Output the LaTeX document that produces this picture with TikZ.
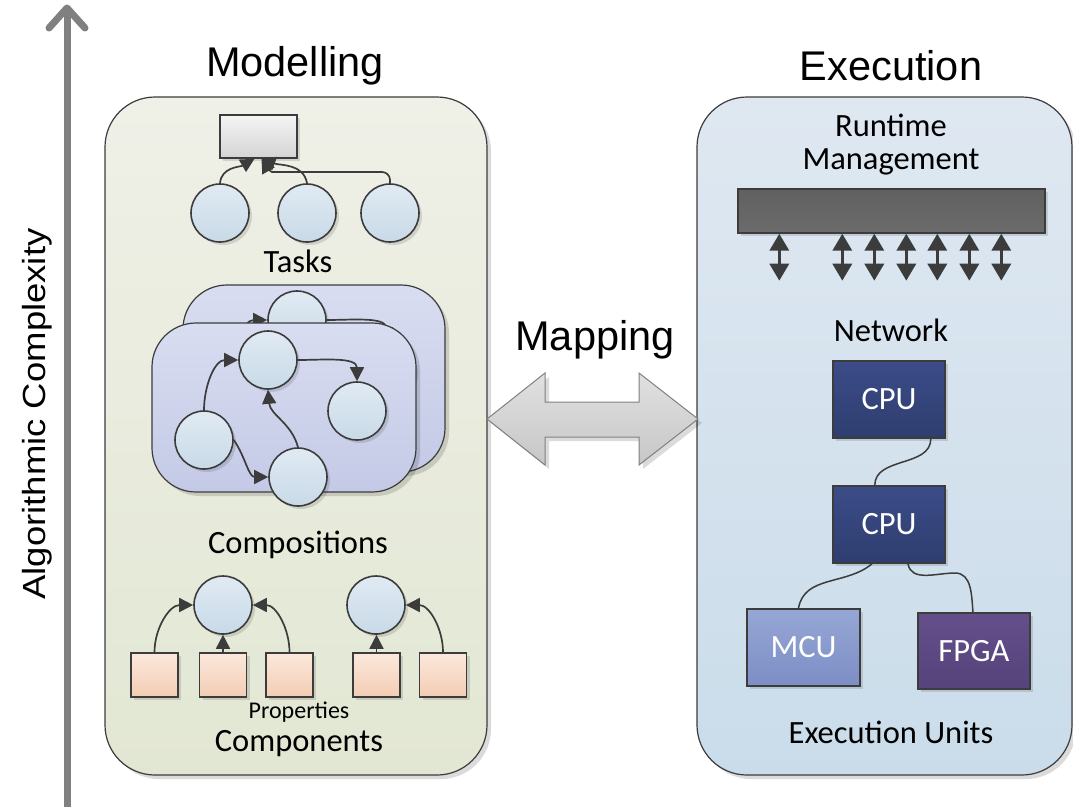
\documentclass[tikz,border=0pt]{standalone}
\usepackage{fontspec}
\setmainfont{Carlito}
\newfontfamily\arialf{Liberation Sans}
\usetikzlibrary{arrows.meta,shadows}

\definecolor{edge}{HTML}{3C3C3C}
\definecolor{axisgray}{HTML}{808080}
\definecolor{modtop}{HTML}{EFF0E7}
\definecolor{modbot}{HTML}{E2E7D3}
\definecolor{exetop}{HTML}{DFE8F1}
\definecolor{exebot}{HTML}{CADCEA}
\definecolor{cardtop}{HTML}{D9DDF1}
\definecolor{cardbot}{HTML}{C4CAE6}
\definecolor{circtop}{HTML}{E0EAF3}
\definecolor{circbot}{HTML}{C8DAE7}
\definecolor{proptop}{HTML}{FBE8DC}
\definecolor{propbot}{HTML}{F3CDB3}
\definecolor{cputop}{HTML}{3B4C88}
\definecolor{cpubot}{HTML}{2F3E6F}
\definecolor{mcutop}{HTML}{96A6D5}
\definecolor{mcubot}{HTML}{7C8EC5}
\definecolor{fpgatop}{HTML}{644F8B}
\definecolor{fpgabot}{HTML}{56437A}

% task graph inside a composition card
\newcommand\compgraph[1]{%
  \node[circ] (#1a) at (268,360) {};
  \node[circ] (#1b) at (357,411) {};
  \node[circ] (#1c) at (204,440) {};
  \node[circ] (#1d) at (298,477) {};
  \draw[conn] (#1c.north) to[out=90,in=180] (#1a.west);
  \draw[conn] (#1a.east) to[out=0,in=90] (#1b.north);
  \draw[conn] (#1d.north) to[out=105,in=-85] (#1a.south);
  \draw[conn] (#1c.east) to[out=-55,in=180] (#1d.west);
}

\begin{document}
\begin{tikzpicture}[x=1pt,y=-1pt,
  shd/.style={drop shadow={shadow xshift=4pt,shadow yshift=-4pt,fill=black,opacity=0.14}},
  sshd/.style={drop shadow={shadow xshift=3pt,shadow yshift=-3pt,fill=black,opacity=0.12}},
  panel/.style={draw=edge,line width=1.2pt,rounded corners=50pt,inner sep=0pt,shd},
  card/.style={draw=edge,line width=1.2pt,rounded corners=44pt,inner sep=0pt,
    top color=cardtop,bottom color=cardbot,shd},
  circ/.style={circle,draw=edge,line width=1.6pt,minimum size=58pt,inner sep=0pt,
    top color=circtop,bottom color=circbot,sshd},
  prop/.style={rectangle,draw=edge,line width=1.6pt,minimum width=47pt,minimum height=44pt,
    inner sep=0pt,top color=proptop,bottom color=propbot,sshd},
  unit/.style={rectangle,draw=edge,line width=1.6pt,minimum width=112pt,minimum height=77pt,
    inner sep=0pt,text=white,font=\fontsize{32.5}{34}\selectfont,sshd},
  conn/.style={draw=edge,line width=1.7pt,-{Triangle[length=14pt,width=14pt]}},
  wire/.style={draw=edge,line width=1.5pt},
  dbl/.style={draw=edge,line width=3.5pt,
    {Triangle[length=17pt,width=19pt]}-{Triangle[length=17pt,width=19pt]}},
  lbl/.style={font=\fontsize{32.5}{36}\selectfont},
  small/.style={font=\fontsize{24}{26}\selectfont},
  title/.style={font=\arialf\fontsize{41.5}{44}\selectfont}]

\useasboundingbox (0,0) rectangle (1073,807);
\fill[white] (0,0) rectangle (1073,807);

% complexity axis
\coordinate (axb) at (67,807);
\coordinate (axt) at (67,8);
\draw[axisgray,line width=7pt] (axb) -- ([yshift=-3pt]axt);
\draw[axisgray,line width=7pt,line cap=round,line join=round]
  (49,28) -- (axt) -- (85,28);
\node[rotate=90,font=\arialf\fontsize{32}{34}\selectfont] (axl) at (37,414)
  {\scalebox{1.14}[1]{Algorithmic Complexity}};

% panels
\node[panel,top color=modtop,bottom color=modbot,minimum width=382pt,minimum height=678pt]
  (mod) at (296,436) {};
\node[panel,top color=exetop,bottom color=exebot,minimum width=375pt,minimum height=678pt]
  (exe) at (884.5,436) {};
\node[title] (modt) at (295,66) {Modelling};
\node[title] (exet) at (891,66) {Execution};

% mapping arrow
\path[draw=axisgray,line width=1pt,top color=white!88!black,bottom color=white!78!black,shd]
  (487,419) -- (545,373) -- (545,402) -- (639,402) -- (639,373) -- (698,419)
  -- (639,465) -- (639,437) -- (545,437) -- (545,465) -- cycle;
\node[title] (mapt) at (595,340) {Mapping};

% tasks
\node[rectangle,draw=edge,line width=1.6pt,minimum width=77pt,minimum height=43pt,inner sep=0pt,
  top color=white!96!black,bottom color=white!83!black,sshd] (tb) at (258.5,136.5) {};
\node[circ] (t1) at (220,213) {};
\node[circ] (t2) at (307,213) {};
\node[circ] (t3) at (390,213) {};
\draw[conn] (t1.north) to[out=85,in=-150] ([xshift=-4pt]tb.south);
\draw[conn] (t2.north) to[out=100,in=-20] ([xshift=3pt]tb.south);
\draw[conn,rounded corners=8pt] (t3.north) |- (280,172) to[out=180,in=-60] ([xshift=3pt]tb.south);
\node[lbl] (tasks) at (298,261) {Tasks};

% compositions
\node[card,minimum width=262pt,minimum height=187pt] (bc) at (314,378.5) {};
\begin{scope}[shift={(29,-40)}]
  \compgraph{bk}
\end{scope}
\node[card,minimum width=264pt,minimum height=169pt] (fc) at (284,407.5) {};
\compgraph{fr}
\node[lbl] (comps) at (298,545) {Compositions};

% components
\node[circ] (c1) at (223,605) {};
\node[circ] (c2) at (376,605) {};
\node[prop] (p1) at (154.5,675) {};
\node[prop] (p2) at (223,675) {};
\node[prop] (p3) at (289.5,675) {};
\node[prop] (p4) at (376.5,675) {};
\node[prop] (p5) at (443,675) {};
\draw[conn] (p1.north) to[out=90,in=180] (c1.west);
\draw[conn] (p2.north) -- (c1.south);
\draw[conn] (p3.north) to[out=90,in=0] (c1.east);
\draw[conn] (p4.north) -- (p4.north |- c2.south);
\draw[conn] (p5.north) to[out=90,in=0] (c2.east);
\node[small] (props) at (299,712) {Properties};
\node[lbl] (compo) at (299,744) {Components};

% runtime management
\node[lbl] (rt1) at (891,125) {Runtime};
\node[lbl] (rt2) at (891,162) {Management};
\node[rectangle,draw=edge,line width=1.4pt,minimum width=307pt,minimum height=44pt,inner sep=0pt,
  top color=white!38!black,middle color=white!52!black,bottom color=white!42!black,sshd]
  (rm) at (891.5,211) {};
\foreach \dx in {42,105,137,169,200,232,264}
  \draw[dbl] ([xshift=\dx pt]rm.south west) -- ++(0,47);

% network of execution units
\node[lbl] (net) at (891,330) {Network};
\node[unit,top color=cputop,bottom color=cpubot] (cpu1) at (889,399.5) {CPU};
\node[unit,top color=cputop,bottom color=cpubot] (cpu2) at (889,524.5) {CPU};
\node[unit,minimum width=113pt,top color=mcutop,bottom color=mcubot] (mcu) at (803.5,647.5) {MCU};
\node[unit,minimum height=76pt,top color=fpgatop,bottom color=fpgabot] (fpga) at (974,651) {FPGA};
\draw[wire] ([xshift=-15pt]cpu1.south east) to[out=-90,in=90] ([xshift=-71pt]cpu2.north east);
\draw[wire] ([xshift=-17pt]cpu2.south) to[out=-140,in=80] ([xshift=-5pt]mcu.north);
\draw[wire] ([xshift=19pt]cpu2.south) to[out=-80,in=180] (955,573) to[out=0,in=95] ([xshift=-1pt]fpga.north);
\node[lbl] (eu) at (891,732) {Execution Units};

\end{tikzpicture}
\end{document}
